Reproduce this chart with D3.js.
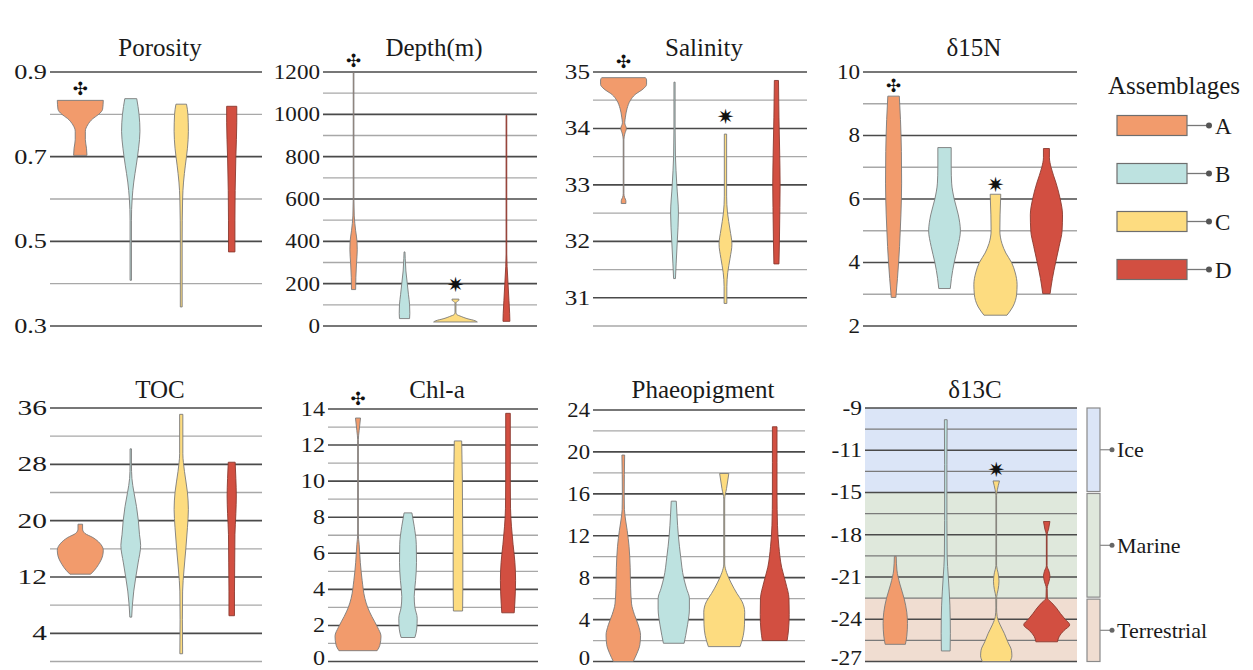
<!DOCTYPE html>
<html>
<head>
<meta charset="utf-8">
<script src="https://cdn.jsdelivr.net/npm/d3@7"></script>
<style>
  body { margin: 0; background: #fff; }
  svg { display: block; }
  text { font-family: "Liberation Serif", "Times New Roman", serif; fill: #1a1a1a; }
</style>
</head>
<body>
<div id="chart"></div>
<script>
// groups and colours
const groups = ["A", "B", "C", "D"];
const groupColors = ["#f29b6c", "#bde2e0", "#fddc80", "#d24f41"];

// violin outlines: [value, relative half-width]
const porosity = {
  A: [[0.703,0.29],[0.72,0.27],[0.74,0.22],[0.76,0.22],[0.775,0.32],[0.79,0.55],[0.80,0.8],[0.812,0.97],[0.833,1.0]],
  B: [[0.408,0.03],[0.55,0.03],[0.6,0.06],[0.64,0.13],[0.68,0.24],[0.72,0.34],[0.76,0.4],[0.80,0.36],[0.837,0.26]],
  C: [[0.345,0.04],[0.5,0.04],[0.6,0.06],[0.64,0.1],[0.68,0.18],[0.72,0.27],[0.76,0.31],[0.80,0.29],[0.824,0.23]],
  D: [[0.475,0.14],[0.55,0.14],[0.62,0.15],[0.70,0.18],[0.78,0.22],[0.819,0.22]]
};
const depth = {
  A: [[172,0.09],[230,0.1],[300,0.13],[360,0.16],[400,0.15],[450,0.09],[520,0.03],[600,0.015],[1200,0.015]],
  B: [[35,0.22],[60,0.23],[100,0.22],[150,0.17],[200,0.12],[260,0.06],[320,0.03],[350,0.02]],
  C: [[19,0.95],[25,0.85],[35,0.5],[45,0.25],[55,0.05],[65,0.02],[110,0.02],[116,0.08],[122,0.15],[127,0.15]],
  D: [[22,0.15],[60,0.14],[120,0.11],[200,0.07],[280,0.03],[340,0.015],[995,0.015]]
};
const salinity = {
  A: [[32.67,0.1],[32.72,0.1],[32.78,0.04],[32.85,0.015],[33.8,0.015],[33.9,0.05],[34.0,0.12],[34.1,0.05],[34.2,0.08],[34.35,0.15],[34.5,0.3],[34.6,0.5],[34.7,0.85],[34.78,1.0],[34.86,1.0],[34.9,0.95]],
  B: [[31.34,0.04],[31.6,0.07],[32.0,0.12],[32.5,0.17],[33.0,0.1],[33.5,0.04],[34.0,0.025],[34.82,0.025]],
  C: [[30.9,0.06],[31.2,0.06],[31.45,0.1],[31.7,0.2],[31.95,0.28],[32.2,0.2],[32.5,0.09],[32.8,0.05],[33.9,0.05]],
  D: [[31.6,0.11],[32.0,0.13],[32.6,0.15],[33.0,0.16],[33.6,0.14],[34.2,0.11],[34.85,0.09]]
};
const d15N = {
  A: [[2.9,0.1],[3.5,0.17],[4.5,0.26],[5.5,0.32],[6.5,0.35],[7.5,0.34],[8.5,0.3],[9.24,0.25]],
  B: [[3.18,0.25],[3.5,0.3],[4.0,0.42],[4.5,0.58],[5.0,0.69],[5.5,0.6],[6.0,0.42],[6.5,0.31],[7.0,0.29],[7.62,0.29]],
  C: [[2.34,0.5],[2.6,0.75],[3.0,0.92],[3.3,0.94],[3.7,0.85],[4.0,0.7],[4.3,0.45],[4.6,0.28],[5.0,0.19],[5.5,0.2],[6.15,0.23]],
  D: [[3.02,0.16],[3.5,0.26],[4.0,0.4],[4.5,0.55],[5.0,0.68],[5.5,0.7],[6.0,0.6],[6.5,0.42],[7.0,0.2],[7.3,0.13],[7.59,0.13]]
};
const toc = {
  A: [[12.4,0.45],[12.9,0.6],[13.8,0.8],[15.0,0.97],[15.8,1.0],[16.8,0.85],[17.6,0.55],[18.2,0.2],[18.8,0.1],[19.5,0.1]],
  B: [[6.3,0.04],[8,0.07],[10,0.13],[12,0.22],[14,0.32],[16.5,0.43],[18,0.38],[20,0.33],[22,0.25],[24,0.14],[26,0.05],[28,0.03],[30.2,0.03]],
  C: [[1.1,0.06],[6,0.05],[10,0.06],[13,0.12],[16,0.2],[19,0.27],[21.6,0.31],[24,0.27],[27,0.14],[29.5,0.07],[35.1,0.07]],
  D: [[6.5,0.12],[10,0.12],[14,0.13],[18,0.14],[21,0.18],[23.5,0.2],[26,0.18],[28.3,0.15]]
};
const chla = {
  A: [[0.6,0.83],[0.9,0.95],[1.4,1.0],[1.9,0.85],[2.5,0.6],[3.0,0.42],[3.5,0.3],[4.5,0.18],[5.5,0.1],[6.5,0.05],[7.0,0.015],[12.3,0.015],[12.8,0.05],[13.5,0.11]],
  B: [[1.33,0.3],[1.8,0.38],[2.4,0.4],[3.0,0.3],[3.6,0.27],[4.5,0.33],[5.5,0.37],[6.5,0.36],[7.5,0.27],[8.24,0.17]],
  C: [[2.8,0.2],[4,0.21],[6,0.21],[8,0.2],[10,0.19],[11.5,0.17],[12.23,0.16]],
  D: [[2.7,0.27],[3.3,0.3],[4.5,0.33],[5.5,0.3],[6.5,0.22],[7.5,0.15],[8.5,0.11],[10,0.1],[12,0.1],[13.76,0.1]]
};
const phaeo = {
  A: [[0,0.43],[0.8,0.6],[1.6,0.72],[2.5,0.75],[3.5,0.65],[4.5,0.48],[5.5,0.36],[7,0.32],[9,0.3],[11,0.25],[12.5,0.17],[13.5,0.1],[14.5,0.05],[16,0.04],[19.7,0.06]],
  B: [[1.74,0.45],[2.5,0.52],[3.5,0.6],[5,0.68],[6,0.68],[7,0.55],[8,0.43],[10,0.3],[12,0.2],[14,0.14],[15.3,0.11]],
  C: [[1.42,0.69],[2.5,0.83],[3.5,0.88],[4.7,0.89],[5.7,0.78],[6.5,0.55],[7.5,0.3],[8.5,0.1],[9.3,0.02],[15.5,0.02],[16.5,0.1],[17.94,0.2]],
  D: [[2.0,0.54],[3,0.6],[4.5,0.63],[6,0.62],[7.5,0.48],[9,0.3],[11,0.18],[13,0.12],[16,0.1],[19,0.1],[22.4,0.1]]
};
const d13C = {
  A: [[-25.78,0.44],[-25.2,0.5],[-24.3,0.53],[-23.5,0.5],[-22.5,0.38],[-21.5,0.2],[-20.5,0.07],[-19.53,0.04]],
  B: [[-26.25,0.19],[-25,0.2],[-23,0.18],[-21,0.11],[-19.5,0.06],[-17,0.05],[-13,0.05],[-9.83,0.06]],
  C: [[-27,0.6],[-26.6,0.68],[-26.2,0.66],[-25.6,0.5],[-25,0.35],[-24.4,0.17],[-23.8,0.04],[-23.2,0.015],[-22.4,0.02],[-21.9,0.08],[-21.3,0.12],[-20.7,0.08],[-20.2,0.015],[-15.2,0.015],[-14.8,0.05],[-14.18,0.14]],
  D: [[-25.6,0.47],[-25.2,0.55],[-24.8,0.75],[-24.4,1.0],[-24.0,0.8],[-23.6,0.6],[-23.2,0.42],[-22.8,0.2],[-22.5,0.03],[-21.8,0.02],[-21.3,0.1],[-20.95,0.14],[-20.6,0.1],[-20.2,0.015],[-18,0.015],[-17.6,0.08],[-17.06,0.14]]
};

// axis ticks and labels
const porosityTicks = [0.3, 0.5, 0.7, 0.9], porosityMinor = [0.4, 0.6, 0.8];
const porosityLabels = ["0.3", "0.5", "0.7", "0.9"];
const depthTicks = [0, 200, 400, 600, 800, 1000, 1200], depthMinor = [100, 300, 500, 700, 900, 1100];
const depthLabels = ["0", "200", "400", "600", "800", "1000", "1200"];
const salinityTicks = [31, 32, 33, 34, 35], salinityMinor = [30.5, 31.5, 32.5, 33.5, 34.5];
const salinityLabels = ["31", "32", "33", "34", "35"];
const d15NTicks = [2, 4, 6, 8, 10], d15NMinor = [3, 5, 7, 9];
const d15NLabels = ["2", "4", "6", "8", "10"];
const tocTicks = [4, 12, 20, 28, 36], tocMinor = [0, 8, 16, 24, 32];
const tocLabels = ["4", "12", "20", "28", "36"];
const chlaTicks = [0, 2, 4, 6, 8, 10, 12, 14], chlaMinor = [1, 3, 5, 7, 9, 11, 13];
const chlaLabels = ["0", "2", "4", "6", "8", "10", "12", "14"];
const phaeoTicks = [0, 4, 8, 12, 16, 20, 24], phaeoMinor = [2, 6, 10, 14, 18, 22];
const phaeoLabels = ["0", "4", "8", "12", "16", "20", "24"];
const d13CTicks = [-27, -24, -21, -18, -15, -12, -9], d13CMinor = [-25.5, -22.5, -19.5, -16.5, -13.5, -10.5];
const d13CLabels = ["-27", "-24", "-21", "-18", "-15", "-11", "-9"];

// carbon source bands of the δ13C panel
const sources = ["Ice", "Marine", "Terrestrial"];
const sourceBounds = [[-15, -9], [-22.5, -15], [-27, -22.5]];
const sourceColors = ["#dbe5f7", "#dfe8dc", "#f0ddd1"];

// significance marks
const markers = [
  { panel: "porosity", group: "A", sym: "✣", value: 0.862 },
  { panel: "depth", group: "A", sym: "✣", value: 1252 },
  { panel: "salinity", group: "A", sym: "✣", value: 35.18 },
  { panel: "d15N", group: "A", sym: "✣", value: 9.58 },
  { panel: "chla", group: "A", sym: "✣", value: 14.59 },
  { panel: "depth", group: "C", sym: "✷", value: 200 },
  { panel: "salinity", group: "C", sym: "✷", value: 34.22 },
  { panel: "d15N", group: "C", sym: "✷", value: 6.46 },
  { panel: "d13C", group: "C", sym: "✷", value: -13.36 }
];

const panels = [
  { id: "porosity", title: "Porosity", data: porosity, domain: [0.3, 0.9], ticks: porosityTicks, minor: porosityMinor, labels: porosityLabels, x: [50, 262], y: [326, 72], stretch: 1.25 },
  { id: "depth", title: "Depth(m)", data: depth, domain: [0, 1200], ticks: depthTicks, minor: depthMinor, labels: depthLabels, x: [323, 537], y: [326, 72], stretch: 1.1 },
  { id: "salinity", title: "Salinity", data: salinity, domain: [30.5, 35], ticks: salinityTicks, minor: salinityMinor, labels: salinityLabels, x: [593, 807], y: [326, 72], stretch: 1.2 },
  { id: "d15N", title: "δ15N", data: d15N, domain: [2, 10], ticks: d15NTicks, minor: d15NMinor, labels: d15NLabels, x: [863, 1077], y: [326, 72], stretch: 1.1 },
  { id: "toc", title: "TOC", data: toc, domain: [0, 36], ticks: tocTicks, minor: tocMinor, labels: tocLabels, x: [50, 262], y: [661.5, 408], stretch: 1.4 },
  { id: "chla", title: "Chl-a", data: chla, domain: [0, 14], ticks: chlaTicks, minor: chlaMinor, labels: chlaLabels, x: [328, 538], y: [661.5, 409], stretch: 1.15 },
  { id: "phaeo", title: "Phaeopigment", data: phaeo, domain: [0, 24], ticks: phaeoTicks, minor: phaeoMinor, labels: phaeoLabels, x: [593, 805], y: [661.5, 410], stretch: 1.08 },
  { id: "d13C", title: "δ13C", data: d13C, domain: [-27, -9], ticks: d13CTicks, minor: d13CMinor, labels: d13CLabels, x: [865, 1077], y: [661.5, 408], stretch: 1.12 }
];

const W = 1253, H = 670;
const serif = "'Liberation Serif', 'Times New Roman', serif";
const tickFont = 21;
const svg = d3.select("#chart").append("svg").attr("width", W).attr("height", H);

const color = d3.scaleOrdinal().domain(groups).range(groupColors);
const halfWidth = d3.scaleLinear().domain([0, 1]).range([0, 23]);

panels.forEach(p => {
  const y = d3.scaleLinear().domain(p.domain).range(p.y);
  const x = d3.scalePoint().domain(groups).range(p.x).padding(0.6);
  const g = svg.append("g");
  p.yScale = y; p.xScale = x;

  if (p.id === "d13C") {
    g.selectAll("rect.band").data(sources).join("rect")
      .attr("class", "band")
      .attr("x", p.x[0]).attr("width", p.x[1] - p.x[0])
      .attr("y", (d, i) => y(sourceBounds[i][1]))
      .attr("height", (d, i) => y(sourceBounds[i][0]) - y(sourceBounds[i][1]))
      .attr("fill", (d, i) => sourceColors[i]);
  }

  g.selectAll("line.minor").data(p.minor).join("line")
    .attr("class", "minor")
    .attr("x1", p.x[0]).attr("x2", p.x[1])
    .attr("y1", d => y(d)).attr("y2", d => y(d))
    .attr("stroke", p.id === "d13C" ? "#7a7a7a" : "#a8a8a8")
    .attr("stroke-width", 1.3);

  g.selectAll("line.major").data(p.ticks).join("line")
    .attr("class", "major")
    .attr("x1", p.x[0]).attr("x2", p.x[1])
    .attr("y1", d => y(d)).attr("y2", d => y(d))
    .attr("stroke", "#4a4a4a")
    .attr("stroke-width", 1.6);

  const area = d3.area()
    .curve(d3.curveMonotoneY)
    .y(d => y(d[0]));

  groups.forEach(k => {
    const cx = x(k);
    g.append("path")
      .datum(p.data[k])
      .attr("d", area.x0(d => cx - halfWidth(d[1])).x1(d => cx + halfWidth(d[1])))
      .attr("fill", color(k))
      .attr("stroke", k === "D" ? "#8a3a30" : "#7a7a7a")
      .attr("stroke-width", 0.9)
      .attr("stroke-linejoin", "round");
  });

  // baseline kept inside the page for the lowest labels
  g.selectAll("text.tick").data(p.ticks).join("text")
    .attr("class", "tick")
    .attr("transform", d => `translate(${p.x[0] - 3},${Math.min(y(d) + tickFont * 0.33, H - 5)}) scale(${p.stretch},1)`)
    .attr("text-anchor", "end")
    .style("font-family", serif)
    .style("font-size", tickFont + "px")
    .text((d, i) => p.labels[i]);

  g.append("text")
    .attr("x", (p.x[0] + p.x[1]) / 2 + 4)
    .attr("y", p.y[1] < 200 ? 56 : 398)
    .attr("text-anchor", "middle")
    .style("font-family", serif)
    .style("font-size", "25px")
    .text(p.title);
});

// significance marks
markers.forEach(m => {
  const p = panels.find(q => q.id === m.panel);
  const big = m.sym === "✣";
  svg.append("text")
    .attr("x", p.xScale(m.group))
    .attr("y", p.yScale(m.value))
    .attr("text-anchor", "middle")
    .attr("dy", big ? "0.36em" : "0.38em")
    .style("font-family", "DejaVu Sans")
    .style("font-size", big ? "18px" : "21px")
    .style("fill", "#111")
    .text(m.sym);
});

// Assemblages legend
const leg = svg.append("g");
leg.append("text")
  .attr("x", 1174).attr("y", 94)
  .attr("text-anchor", "middle")
  .style("font-family", serif)
  .style("font-size", "25px")
  .text("Assemblages");

const legY = d3.scalePoint().domain(groups).range([125.5, 269.5]);
groups.forEach(k => {
  const cy = legY(k);
  leg.append("rect")
    .attr("x", 1117).attr("y", cy - 10).attr("width", 70).attr("height", 20)
    .attr("fill", color(k)).attr("stroke", "#6e6e6e").attr("stroke-width", 1.2);
  leg.append("line")
    .attr("x1", 1187).attr("x2", 1209).attr("y1", cy).attr("y2", cy)
    .attr("stroke", "#777").attr("stroke-width", 1.3);
  leg.append("circle").attr("cx", 1209).attr("cy", cy).attr("r", 3).attr("fill", "#555");
  leg.append("text")
    .attr("x", 1215).attr("y", cy).attr("dy", "0.35em")
    .style("font-family", serif)
    .style("font-size", "23px")
    .text(k);
});

// carbon source bar next to δ13C
const pc = panels.find(q => q.id === "d13C");
const src = svg.append("g");
sources.forEach((s, i) => {
  const top = pc.yScale(sourceBounds[i][1]) + (i === 0 ? 0 : 1);
  const bot = pc.yScale(sourceBounds[i][0]) - (i === 2 ? 0 : 1);
  const mid = (top + bot) / 2;
  src.append("rect")
    .attr("x", 1087).attr("y", top).attr("width", 13).attr("height", bot - top)
    .attr("fill", sourceColors[i]).attr("stroke", "#8a8a8a").attr("stroke-width", 1.2);
  src.append("line")
    .attr("x1", 1100).attr("x2", 1112).attr("y1", mid).attr("y2", mid)
    .attr("stroke", "#888").attr("stroke-width", 1.2);
  src.append("circle").attr("cx", 1112).attr("cy", mid).attr("r", 2.5).attr("fill", "#666");
  src.append("text")
    .attr("x", 1117).attr("y", mid).attr("dy", "0.35em")
    .style("font-family", serif)
    .style("font-size", "22px")
    .text(s);
});
</script>
</body>
</html>
